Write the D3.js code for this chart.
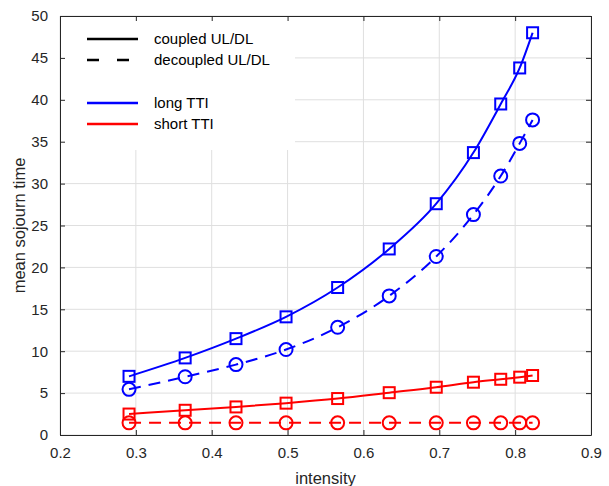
<!DOCTYPE html>
<html>
<head>
<meta charset="utf-8">
<script src="https://cdn.jsdelivr.net/npm/d3@7"></script>
<style>
  body { margin: 0; background: #fff; }
  svg { display: block; font-family: "Liberation Sans", Arial, sans-serif; }
</style>
</head>
<body>
<div id="chart"></div>
<script>
// intensity values (x) shared by all series
const intensity = [0.291, 0.365, 0.432, 0.498, 0.566, 0.634, 0.696, 0.745, 0.781, 0.806, 0.823];

const longCoupled = [7.0, 9.2, 11.5, 14.1, 17.6, 22.2, 27.6, 33.7, 39.5, 43.8, 48.0];
const longDecoupled = [5.45, 6.95, 8.4, 10.2, 12.85, 16.6, 21.3, 26.3, 30.9, 34.8, 37.6];
const shortCoupled = [2.5, 2.95, 3.35, 3.8, 4.35, 5.05, 5.7, 6.3, 6.65, 6.9, 7.1];
const shortDecoupled = [1.45, 1.45, 1.45, 1.45, 1.45, 1.45, 1.45, 1.45, 1.45, 1.45, 1.45];

const xTicks = [0.2, 0.3, 0.4, 0.5, 0.6, 0.7, 0.8, 0.9];
const yTicks = [0, 5, 10, 15, 20, 25, 30, 35, 40, 45, 50];

const series = [
  { values: longCoupled, color: '#0000ff', dashed: false, marker: 'square' },
  { values: longDecoupled, color: '#0000ff', dashed: true, marker: 'circle' },
  { values: shortCoupled, color: '#ff0000', dashed: false, marker: 'square' },
  { values: shortDecoupled, color: '#ff0000', dashed: true, marker: 'circle' },
];

const legendStyle = [
  { label: 'coupled UL/DL', color: '#000', dashed: false },
  { label: 'decoupled UL/DL', color: '#000', dashed: true },
  { label: 'long TTI', color: '#0000ff', dashed: false },
  { label: 'short TTI', color: '#ff0000', dashed: false },
];

const width = 609;
const height = 486;
const margin = { top: 16, right: 18, bottom: 51, left: 60 };
const axisColor = '#262626';
const gridColor = '#dfdfdf';
const dash = '12,8';

const svg = d3.select('#chart')
  .append('svg')
  .attr('width', width)
  .attr('height', height);

const xScale = d3.scaleLinear().domain([0.2, 0.9]).range([margin.left, width - margin.right]);
const yScale = d3.scaleLinear().domain([0, 50]).range([height - margin.bottom, margin.top]);

// gridlines
const grid = svg.append('g').attr('class', 'grid');
grid.selectAll('line.gx')
  .data(xTicks)
  .join('line')
  .attr('class', 'gx')
  .attr('x1', (d) => xScale(d)).attr('x2', (d) => xScale(d))
  .attr('y1', yScale(50)).attr('y2', yScale(0))
  .attr('stroke', gridColor);
grid.selectAll('line.gy')
  .data(yTicks)
  .join('line')
  .attr('class', 'gy')
  .attr('y1', (d) => yScale(d)).attr('y2', (d) => yScale(d))
  .attr('x1', xScale(0.2)).attr('x2', xScale(0.9))
  .attr('stroke', gridColor);

// legend background (covers the grid)
const legendBox = { x: 61, y: 17, w: 234, h: 133 };
svg.append('rect')
  .attr('x', legendBox.x).attr('y', legendBox.y)
  .attr('width', legendBox.w).attr('height', legendBox.h)
  .attr('fill', '#fff');

// axes
function styleAxis(g) {
  g.select('.domain').attr('stroke', axisColor);
  g.selectAll('.tick line').attr('stroke', axisColor);
  g.selectAll('.tick text')
    .attr('fill', axisColor)
    .style('font-size', '15px')
    .style('font-family', '"Liberation Sans", Arial, sans-serif');
}

svg.append('g')
  .attr('transform', `translate(0,${yScale(0)})`)
  .call(d3.axisBottom(xScale).tickValues(xTicks).tickFormat(d3.format('.1f'))
    .tickSizeInner(-5).tickSizeOuter(0).tickPadding(12))
  .call(styleAxis);

svg.append('g')
  .attr('transform', `translate(0,${yScale(50)})`)
  .call(d3.axisTop(xScale).tickValues(xTicks).tickFormat('')
    .tickSizeInner(-5).tickSizeOuter(0))
  .call(styleAxis);

svg.append('g')
  .attr('transform', `translate(${xScale(0.2)},0)`)
  .call(d3.axisLeft(yScale).tickValues(yTicks)
    .tickSizeInner(-5).tickSizeOuter(0).tickPadding(12))
  .call(styleAxis);

svg.append('g')
  .attr('transform', `translate(${xScale(0.9)},0)`)
  .call(d3.axisRight(yScale).tickValues(yTicks).tickFormat('')
    .tickSizeInner(-5).tickSizeOuter(0))
  .call(styleAxis);

// axis labels
svg.append('text')
  .attr('x', (xScale(0.2) + xScale(0.9)) / 2)
  .attr('y', 484)
  .attr('text-anchor', 'middle')
  .attr('fill', axisColor)
  .style('font-size', '16.5px')
  .text('intensity');

svg.append('text')
  .attr('transform', `translate(25,${(yScale(0) + yScale(50)) / 2}) rotate(-90)`)
  .attr('text-anchor', 'middle')
  .attr('fill', axisColor)
  .style('font-size', '16.5px')
  .text('mean sojourn time');

// series
const line = d3.line()
  .x((d) => xScale(d[0]))
  .y((d) => yScale(d[1]))
  .curve(d3.curveMonotoneX);

const plot = svg.append('g').attr('class', 'series');

series.forEach((s) => {
  const pts = intensity.map((x, i) => [x, s.values[i]]);
  plot.append('path')
    .datum(pts)
    .attr('d', line)
    .attr('fill', 'none')
    .attr('stroke', s.color)
    .attr('stroke-width', 2)
    .attr('stroke-dasharray', s.dashed ? dash : null);

  if (s.marker === 'square') {
    plot.selectAll(null)
      .data(pts)
      .join('rect')
      .attr('x', (d) => xScale(d[0]) - 5.5)
      .attr('y', (d) => yScale(d[1]) - 5.5)
      .attr('width', 11)
      .attr('height', 11)
      .attr('fill', 'none')
      .attr('stroke', s.color)
      .attr('stroke-width', 2);
  } else {
    plot.selectAll(null)
      .data(pts)
      .join('circle')
      .attr('cx', (d) => xScale(d[0]))
      .attr('cy', (d) => yScale(d[1]))
      .attr('r', 6.5)
      .attr('fill', 'none')
      .attr('stroke', s.color)
      .attr('stroke-width', 2);
  }
});

// legend
const legendY = [39, 60, 103, 124];
const legend = svg.append('g').attr('class', 'legend');
legendStyle.forEach((d, i) => {
  legend.append('line')
    .attr('x1', 87).attr('x2', 138)
    .attr('y1', legendY[i]).attr('y2', legendY[i])
    .attr('stroke', d.color)
    .attr('stroke-width', 2.5)
    .attr('stroke-dasharray', d.dashed ? '12,18' : null);
  legend.append('text')
    .attr('x', 154)
    .attr('y', legendY[i] + 5)
    .attr('fill', '#000')
    .style('font-size', '15px')
    .text(d.label);
});
</script>
</body>
</html>
